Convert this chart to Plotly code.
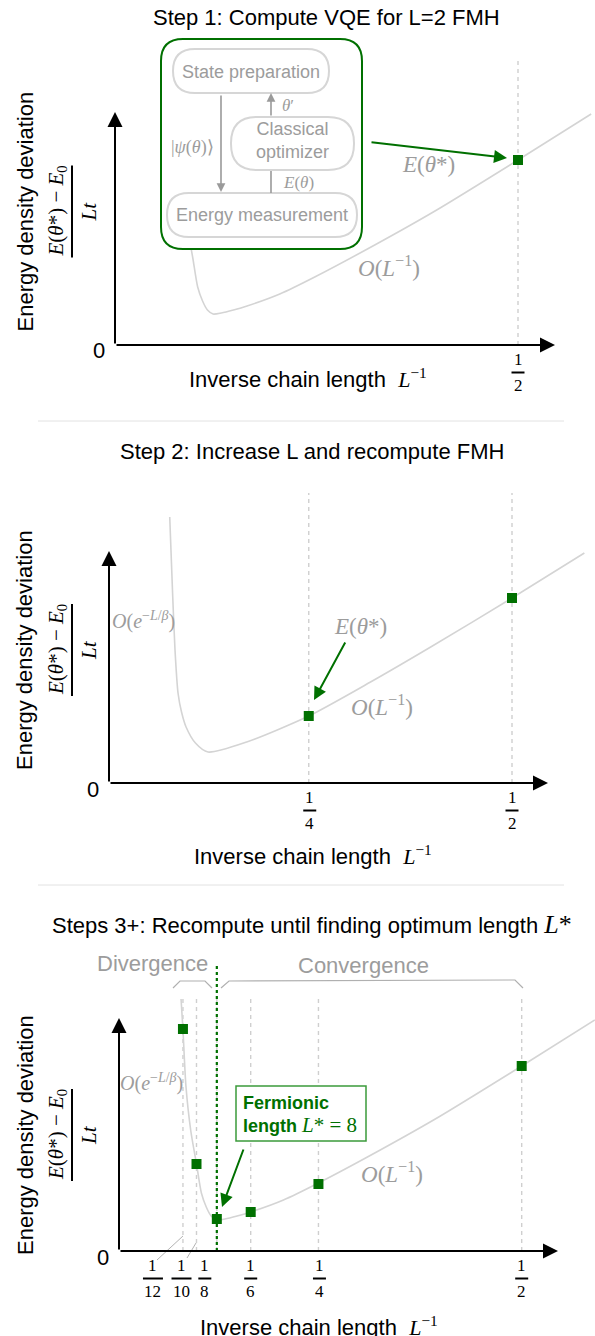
import plotly.graph_objects as go

W, H = 595, 1336
S = 813.0  # pixels per unit of inverse length

# ---------------- data ----------------
chain_length = [2, 4, 6, 8, 10, 12]
energy_deviation = [185, 67, 39, 32, 87, 222]      # arbitrary units
step1_lengths = [2]
step2_lengths = [4, 2]
step3_lengths = [12, 10, 8, 6, 4, 2]
optimum_length = 8
# sketch curve used in steps 1 and 3
curve_inv_len = [0.079, 0.081, 0.0833, 0.087, 0.093, 0.1, 0.106, 0.112, 0.118, 0.125,
                 0.135, 0.15, 0.1667, 0.207, 0.25, 0.326, 0.4, 0.5, 0.59]
curve_dev = [266, 252, 222, 165, 120, 87, 58, 44, 35, 31,
             32, 35, 39, 51, 68, 101, 135, 185, 231]
# sketch curve drawn in step 2
curve2_inv_len = [0.079, 0.0827, 0.0855, 0.0892, 0.0935, 0.0991, 0.1106, 0.1261, 0.1737,
                  0.25, 0.326, 0.4, 0.5, 0.589]
curve2_dev = [266, 186, 133, 90, 71, 56, 40, 31, 41, 67, 101, 136, 185, 230]

E = dict(zip(chain_length, energy_deviation))

SANS = "Liberation Sans, Arial, Helvetica, sans-serif"
SERIF = "Liberation Serif, Times New Roman, serif"
GREEN = "#007000"
GRAY_TXT = "#9c9c9c"
CURVE = "#d4d4d4"

panels = [
    dict(xa="x", ya="y", x0=111.5, y0=345, top=0, bot=421, yax=115, xtip=555, ytip=112,
         lengths=step1_lengths, cx=curve_inv_len, cy=curve_dev, dtop=288, shifts=[0]),
    dict(xa="x2", ya="y2", x0=105.5, y0=783, top=421, bot=885, yax=109, xtip=548, ytip=551,
         lengths=step2_lengths, cx=curve2_inv_len, cy=curve2_dev, dtop=290, shifts=[1, 0]),
    dict(xa="x3", ya="y3", x0=115.2, y0=1251, top=885, bot=1336, yax=119, xtip=558, ytip=1018,
         lengths=step3_lengths, cx=curve_inv_len[1:], cy=curve_dev[1:], dtop=254,
         shifts=[-30, -15, -12, 0, 1, 0]),
]


def P(px, py):
    return px / W, 1 - py / H


fig = go.Figure()
shapes = []
annotations = []


def text(px, py, t, size, color="black", family=SANS, angle=0, xanchor="center", **kw):
    x, y = P(px, py)
    annotations.append(dict(xref="paper", yref="paper", x=x, y=y, text=t, showarrow=False,
                            font=dict(size=size, color=color, family=family), textangle=angle,
                            xanchor=xanchor, yanchor="middle", **kw))


def arrow(tip, tail, color, width, head=2, size=1.0):
    x, y = P(*tip)
    annotations.append(dict(xref="paper", yref="paper", x=x, y=y, text="", showarrow=True,
                            ax=tail[0] - tip[0], ay=tail[1] - tip[1], axref="pixel", ayref="pixel",
                            arrowhead=head, arrowsize=size, arrowwidth=width, arrowcolor=color,
                            standoff=0, startstandoff=0))


def pline(pts, color, width, dash=None, layer="above"):
    path = "M" + " L".join(f"{P(a, b)[0]:.5f},{P(a, b)[1]:.5f}" for a, b in pts)
    shapes.append(dict(type="path", xref="paper", yref="paper", path=path, layer=layer,
                       line=dict(color=color, width=width, dash=dash)))


def rrect(x0, y0, x1, y1, r, color, width, fill="white"):
    def q(a, b):
        x, y = P(a, b)
        return f"{x:.5f},{y:.5f}"
    path = (f"M{q(x0 + r, y0)} L{q(x1 - r, y0)} Q{q(x1, y0)} {q(x1, y0 + r)} "
            f"L{q(x1, y1 - r)} Q{q(x1, y1)} {q(x1 - r, y1)} L{q(x0 + r, y1)} "
            f"Q{q(x0, y1)} {q(x0, y1 - r)} L{q(x0, y0 + r)} Q{q(x0, y0)} {q(x0 + r, y0)} Z")
    shapes.append(dict(type="path", xref="paper", yref="paper", path=path, layer="above",
                       fillcolor=fill, line=dict(color=color, width=width)))


layout_axes = {}
for i, p in enumerate(panels):
    sfx = "" if i == 0 else str(i + 1)
    layout_axes["xaxis" + sfx] = dict(domain=[0, 1], range=[-p["x0"] / S, (W - p["x0"]) / S],
                                      visible=False, anchor="y" + sfx, fixedrange=True)
    layout_axes["yaxis" + sfx] = dict(domain=[1 - p["bot"] / H, 1 - p["top"] / H],
                                      range=[p["y0"] - p["bot"], p["y0"] - p["top"]],
                                      visible=False, anchor="x" + sfx, fixedrange=True)

    # curve
    fig.add_trace(go.Scatter(x=p["cx"], y=p["cy"], mode="lines", xaxis=p["xa"], yaxis=p["ya"],
                             line=dict(color=CURVE, width=1.6, shape="spline", smoothing=0.7),
                             hoverinfo="skip", cliponaxis=False))
    # vertical dashed guides
    for L in p["lengths"]:
        shapes.append(dict(type="line", xref=p["xa"], yref=p["ya"], x0=1 / L, x1=1 / L,
                           y0=0, y1=p["dtop"], layer="below",
                           line=dict(color="#cfcfcf", width=1.4, dash="4px,4px")))
    # points
    xs = [1 / L for L in p["lengths"]]
    ys = [E[L] for L in p["lengths"]]
    fig.add_trace(go.Scatter(x=xs, y=ys, mode="markers", xaxis=p["xa"], yaxis=p["ya"],
                             marker=dict(symbol="square", size=10, color=GREEN),
                             hoverinfo="skip", cliponaxis=False))
    # tick fraction labels
    for L, sh in zip(p["lengths"], p["shifts"]):
        w = 13 if L < 10 else 20
        annotations.append(dict(xref=p["xa"], yref=p["ya"], x=1 / L, y=0, xshift=sh, yshift=-14,
                                text="1", showarrow=False, xanchor="center", yanchor="middle",
                                font=dict(family=SERIF, size=17, color="black")))
        annotations.append(dict(xref=p["xa"], yref=p["ya"], x=1 / L, y=0, xshift=sh, yshift=-40,
                                text=str(L), showarrow=False, xanchor="center", yanchor="middle",
                                font=dict(family=SERIF, size=17, color="black")))
        shapes.append(dict(type="line", xref=p["xa"], yref=p["ya"], xsizemode="pixel",
                           xanchor=1 / L, x0=sh - w / 2, x1=sh + w / 2, ysizemode="pixel",
                           yanchor=0, y0=-27.5, y1=-27.5, line=dict(color="black", width=2)))
    # axes arrows
    arrow((p["xtip"], p["y0"]), (p["yax"], p["y0"]), "black", 2, size=1.5)
    arrow((p["yax"], p["ytip"]), (p["yax"], p["y0"]), "black", 2, size=1.5)
    # zero label
    text(p["yax"] - 16, p["y0"] + 6, "0", 22)

    # y-axis labels
    yc = (p["y0"] + p["ytip"]) / 2 - 17 if i < 2 else 1135
    text(25, yc, "Energy density deviation", 22, angle=-90)
    text(57, yc, "<i>E</i>(<i>θ</i>*) − <i>E</i><sub>0</sub>", 21, family=SERIF, angle=-90)
    text(89, yc, "<i>Lt</i>", 21, family=SERIF, angle=-90)
    pline([(72, yc - 46), (72, yc + 46)], "black", 2)

XLAB = ("Inverse chain length  <span style='font-family:Liberation Serif'>"
        "<i>L</i><sup>−1</sup></span>")
text(308, 378, XLAB, 22)
text(313, 855, XLAB, 22)
text(319, 1326, XLAB, 22)

# titles
text(326, 18, "Step 1: Compute VQE for L=2 FMH", 22)
text(312, 452, "Step 2: Increase L and recompute FMH", 22)
text(312, 925, "Steps 3+: Recompute until finding optimum length "
     "<span style='font-family:Liberation Serif;font-size:26px'><i>L</i>*</span>", 22)

# separators
pline([(38, 421), (564, 421)], "#e2e2e2", 1)
pline([(38, 885), (564, 885)], "#e2e2e2", 1)

# ---------------- panel 1 VQE diagram ----------------
rrect(161, 39, 362, 249, 22, GREEN, 2)
rrect(173, 49, 329, 93, 22, "#d6d6d6", 2)
rrect(231, 117, 354, 170, 26, "#d6d6d6", 2)
rrect(167, 193, 357, 237, 22, "#d6d6d6", 2)
text(251, 72, "State preparation", 18, GRAY_TXT)
text(292, 141, "Classical<br>optimizer", 18, GRAY_TXT)
text(262, 215, "Energy measurement", 18, GRAY_TXT)
arrow((221, 192), (221, 94), "#9a9a9a", 1.6, size=1.1)
arrow((271, 93), (271, 117), "#9a9a9a", 1.6, size=1.1)
pline([(271, 171), (271, 193)], "#9a9a9a", 1.6)
text(192, 147, "|<i>ψ</i>(<i>θ</i>)⟩", 18, GRAY_TXT, SERIF)
text(288, 105, "<i>θ</i>′", 17, GRAY_TXT, SERIF)
text(298, 182, "<i>E</i>(<i>θ</i>)", 17, GRAY_TXT, SERIF)
arrow((507, 158), (370, 142), GREEN, 2, size=1.3)
text(428, 164, "<i>E</i>(<i>θ</i>*)", 23, GRAY_TXT, SERIF)
text(389, 266, "<i>O</i>(<i>L</i><sup>−1</sup>)", 23, GRAY_TXT, SERIF)

# ---------------- panel 2 ----------------
text(143, 621, "<i>O</i>(<i>e</i><sup>−<i>L</i>/<i>β</i></sup>)", 20, GRAY_TXT, SERIF)
text(360, 626, "<i>E</i>(<i>θ</i>*)", 23, GRAY_TXT, SERIF)
arrow((314, 700), (346, 641), GREEN, 2, size=1.3)
text(382, 705, "<i>O</i>(<i>L</i><sup>−1</sup>)", 23, GRAY_TXT, SERIF)

# ---------------- panel 3 ----------------
shapes.append(dict(type="line", xref="x3", yref="y3", x0=1 / optimum_length, x1=1 / optimum_length,
                   y0=0, y1=288, layer="below",
                   line=dict(color=GREEN, width=2.2, dash="3px,3px")))
text(152, 963, "Divergence", 22, GRAY_TXT)
text(363, 966, "Convergence", 22, GRAY_TXT)
pline([(173, 988), (180, 981), (205, 981), (212, 988)], "#b0b0b0", 1.2)
pline([(221, 988), (229, 981), (515, 980), (523, 988)], "#b0b0b0", 1.2)
text(151, 1082, "<i>O</i>(<i>e</i><sup>−<i>L</i>/<i>β</i></sup>)", 20, GRAY_TXT, SERIF)
text(392, 1172, "<i>O</i>(<i>L</i><sup>−1</sup>)", 23, GRAY_TXT, SERIF)
pline([(183, 1236), (157, 1260)], "#a0a0a0", 0.8)
pline([(196, 1243), (187, 1258)], "#a0a0a0", 0.8)
x0_, y0_ = P(236, 1086)
x1_, y1_ = P(366, 1141)
shapes.append(dict(type="rect", xref="paper", yref="paper", x0=x0_, y0=y0_, x1=x1_, y1=y1_,
                   layer="above", fillcolor="white", line=dict(color="#3b9b3b", width=1.5)))
text(241, 1115, "<b>Fermionic</b><br><b>length</b> <span style='font-family:Liberation Serif;"
     "font-size:21px'><i>L</i>* = 8</span>", 18, GREEN, xanchor="left", align="left")
arrow((222, 1207), (244, 1148), GREEN, 2, size=1.3)

fig.update_layout(width=W, height=H, margin=dict(l=0, r=0, t=0, b=0),
                  paper_bgcolor="white", plot_bgcolor="rgba(0,0,0,0)", showlegend=False,
                  shapes=shapes, annotations=annotations, **layout_axes)
fig.write_html("out.html")
